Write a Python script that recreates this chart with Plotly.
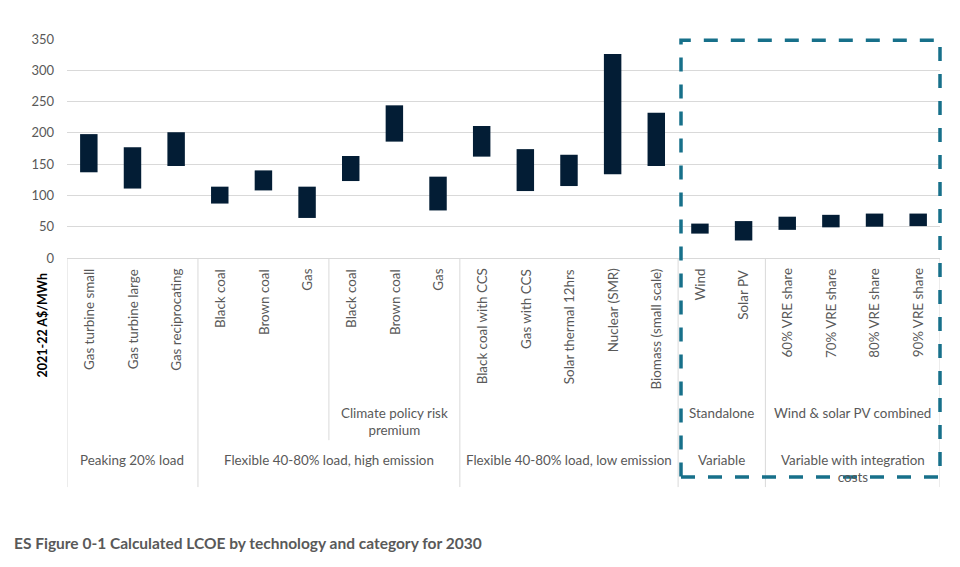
import plotly.graph_objects as go

# ---- data ----
technologies = [
    "Gas turbine small", "Gas turbine large", "Gas reciprocating",
    "Black coal", "Brown coal", "Gas",
    "Black coal", "Brown coal", "Gas",
    "Black coal with CCS", "Gas with CCS", "Solar thermal 12hrs", "Nuclear (SMR)", "Biomass (small scale)",
    "Wind", "Solar PV",
    "60% VRE share", "70% VRE share", "80% VRE share", "90% VRE share",
]
low_values = [137, 111, 147, 87, 108, 64, 123, 186, 76, 162, 107, 115, 134, 147, 39, 28, 45, 49, 50, 51]
high_values = [198, 177, 201, 114, 140, 114, 163, 244, 130, 211, 174, 165, 326, 232, 55, 59, 66, 69, 71, 71]

# level-2 groups: (label, first index, last index)
subgroups = [("Climate policy risk<br>premium", 6, 8), ("Standalone", 14, 15), ("Wind & solar PV combined", 16, 19)]
# level-3 groups
groups = [
    ("Peaking 20% load", 0, 2),
    ("Flexible 40-80% load, high emission", 3, 8),
    ("Flexible 40-80% load, low emission", 9, 13),
    ("Variable", 14, 15),
    ("Variable with integration<br>costs", 16, 19),
]
y_ticks = [0, 50, 100, 150, 200, 250, 300, 350]

FONT = "Lato"
GRAY = "#595959"
LINE = "#d9d9d9"
LSIZE = 13.4

x_idx = list(range(len(technologies)))
spans = [h - l for l, h in zip(low_values, high_values)]

fig = go.Figure(go.Bar(
    x=x_idx, y=spans, base=low_values, width=0.4,
    marker=dict(color="#031d35", line=dict(width=0)),
    hovertext=technologies,
))

# screen-pixel helpers (plot area on screen: x 67..940, y 38.7..258.3; page has 8px body margin)
PH = 219.6
def py(pix):
    return (258.3 - pix) / PH

annotations = []
for i, t in enumerate(technologies):
    annotations.append(dict(x=i, y=py(267), xref="x", yref="paper", text=t, textangle=-90,
                            showarrow=False, xanchor="center", yanchor="top",
                            font=dict(family=FONT, size=LSIZE, color=GRAY)))
for lab, a, b in subgroups:
    annotations.append(dict(x=(a + b) / 2, y=py(404), xref="x", yref="paper", text=lab,
                            showarrow=False, xanchor="center", yanchor="top",
                            font=dict(family=FONT, size=LSIZE, color=GRAY)))
for lab, a, b in groups:
    annotations.append(dict(x=(a + b) / 2, y=py(451), xref="x", yref="paper", text=lab,
                            showarrow=False, xanchor="center", yanchor="top",
                            font=dict(family=FONT, size=LSIZE, color=GRAY)))

annotations.append(dict(x=-24 / 873, y=py(326), xref="paper", yref="paper", text="<b>2021-22 A$/MWh</b>",
                        textangle=-90, showarrow=False, xanchor="center", yanchor="middle",
                        font=dict(family=FONT, size=12.5, color="#000000")))
annotations.append(dict(x=(12 - 67) / 873, y=py(544), xref="paper", yref="paper",
                        text="<b>ES Figure 0-1 Calculated LCOE by technology and category for 2030</b>",
                        showarrow=False, xanchor="left", yanchor="middle",
                        font=dict(family=FONT, size=15.5, color=GRAY)))

shapes = []
full_seps = [-0.5, 2.5, 8.5, 13.5, 15.5, 19.5]
for s in full_seps:
    shapes.append(dict(type="line", xref="x", yref="paper", x0=s, x1=s, y0=0, y1=py(488),
                       line=dict(color=LINE, width=1)))
shapes.append(dict(type="line", xref="x", yref="paper", x0=5.5, x1=5.5, y0=0, y1=py(441),
                   line=dict(color=LINE, width=1)))
# dashed highlight box
shapes.append(dict(type="rect", xref="paper", yref="paper", x0=(681 - 67) / 873, x1=1.0,
                   y0=py(478), y1=py(40), line=dict(color="#17708a", width=3.5, dash="14px,13px"),
                   fillcolor="rgba(0,0,0,0)"))

fig.update_layout(
    width=952, height=559,
    margin=dict(l=59, r=20, t=30.7, b=308.7),
    paper_bgcolor="white", plot_bgcolor="white",
    showlegend=False,
    xaxis=dict(range=[-0.5, 19.5], showticklabels=False, showgrid=False, zeroline=False,
               showline=True, linecolor=LINE, linewidth=1, ticks=""),
    yaxis=dict(range=[0, 350], tickvals=y_ticks, showgrid=True, gridcolor=LINE, gridwidth=1,
               zeroline=False, showline=False, ticks="", ticklabelstandoff=12,
               tickfont=dict(family=FONT, size=13, color=GRAY)),
    annotations=annotations,
    shapes=shapes,
)

fig.write_html("out.html")
